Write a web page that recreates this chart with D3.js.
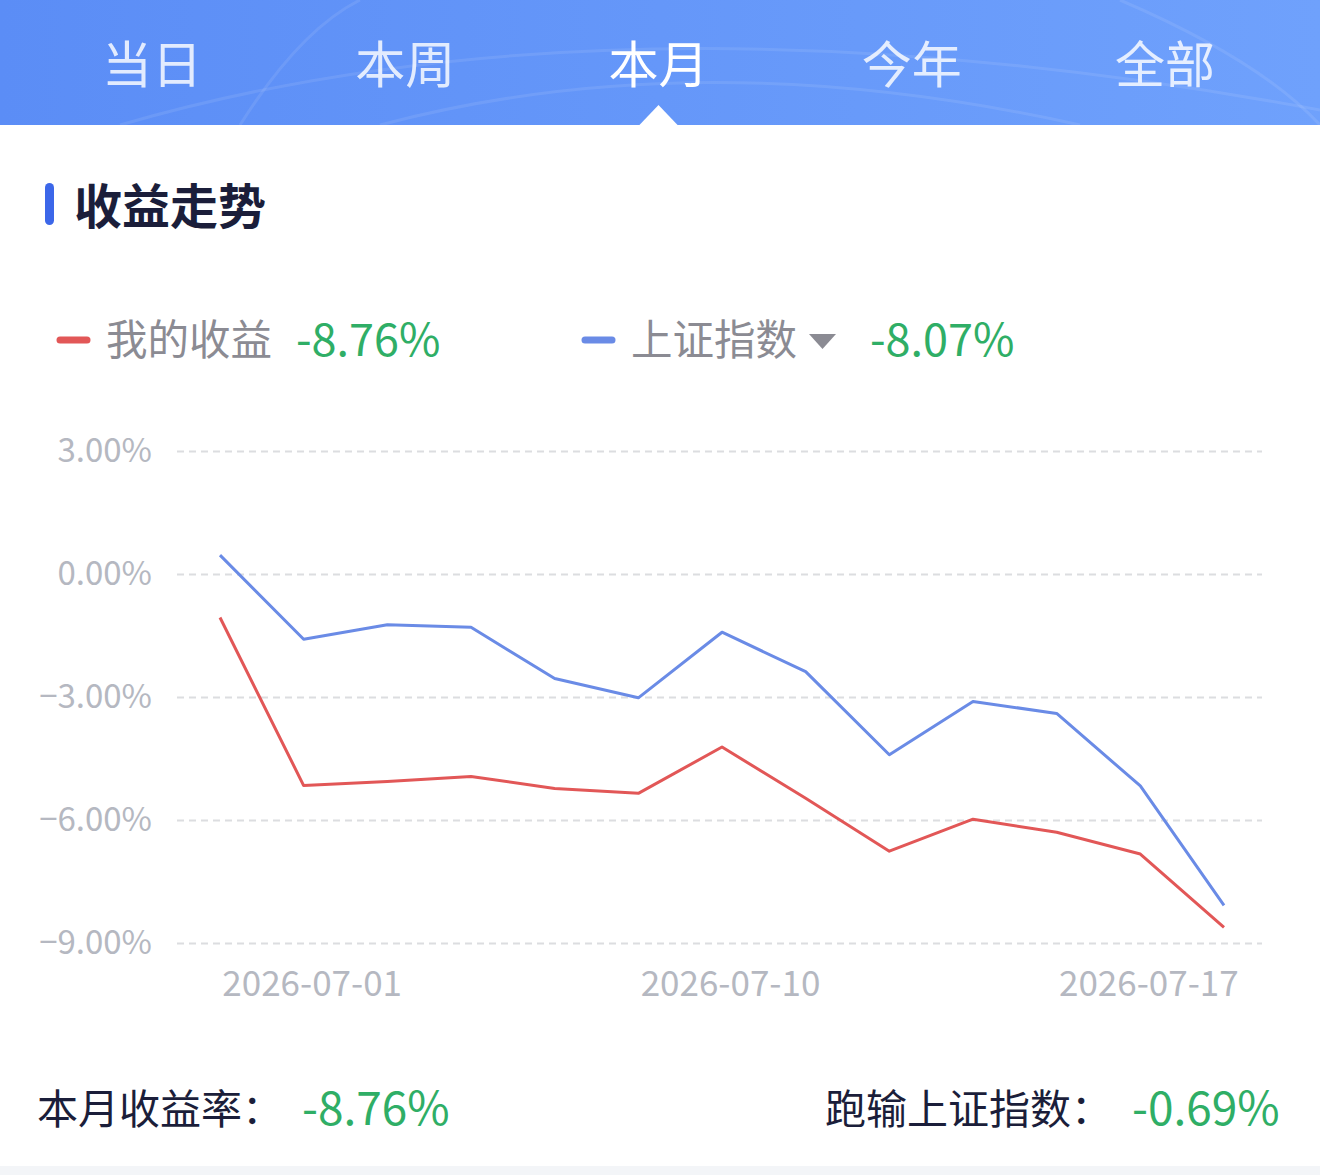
<!DOCTYPE html>
<html>
<head>
<meta charset="utf-8">
<script src="https://cdn.jsdelivr.net/npm/d3@7/dist/d3.min.js"></script>
<style>
  html, body { margin: 0; padding: 0; background: #fff; }
  svg { display: block; font-family: "Noto Sans CJK SC", "Noto Sans", sans-serif; }
</style>
</head>
<body>
<svg id="chart" width="1320" height="1175"></svg>
<script>
'use strict';

// tabs across the header, the selected one is 本月
const TABS = ['当日', '本周', '本月', '今年', '全部'];
const TAB_SELECTED = 2;

// trading days of the month
const DATES = ['2026-06-30', '2026-07-01', '2026-07-02', '2026-07-03', '2026-07-06', '2026-07-08',
	'2026-07-10', '2026-07-13', '2026-07-14', '2026-07-15', '2026-07-16', '2026-07-17', '2026-07-20'];
const X_TICKS = ['2026-07-01', '2026-07-10', '2026-07-17'];
const Y_TICKS = [3, 0, -3, -6, -9];

// returns in %
const MY_RETURN = [-1.06, -5.16, -5.06, -4.94, -5.23, -5.35, -4.22, -5.47, -6.76, -5.98, -6.30, -6.83, -8.62];
const SH_INDEX = [0.46, -1.59, -1.24, -1.30, -2.55, -3.02, -1.42, -2.38, -4.41, -3.11, -3.40, -5.17, -8.08];

const LEGEND = [
	{ name: '我的收益', value: '-8.76%', color: '#e25757' },
	{ name: '上证指数', value: '-8.07%', color: '#6a8be6' },
];
const SUMMARY = [
	{ label: '本月收益率：', value: '-8.76%' },
	{ label: '跑输上证指数：', value: '-0.69%' },
];

const GREEN = '#2fae66',
	GRAY = '#8b8b93',
	NAVY = '#1b1e3a',
	AXIS_GRAY = '#b5b8c1';

let svg = d3.select('#chart');

// ---- header
let defs = svg.append('defs');
let grad = defs.append('linearGradient').attr('id', 'hdr').attr('x1', 0).attr('x2', 1).attr('y1', 0).attr('y2', 0);
grad.append('stop').attr('offset', 0).attr('stop-color', '#5b8df6');
grad.append('stop').attr('offset', 1).attr('stop-color', '#6fa1fc');

svg.append('rect').attr('x', 0).attr('y', 0).attr('width', 1320).attr('height', 125).attr('fill', 'url(#hdr)');

// faint arcs in the header background
let arcs = svg.append('g').attr('fill', 'none').attr('stroke', '#ffffff').attr('stroke-opacity', 0.09).attr('stroke-width', 3);
arcs.append('path').attr('d', 'M 120 125 Q 620 -20 1320 110');
arcs.append('path').attr('d', 'M 380 125 Q 700 40 1080 125');
arcs.append('path').attr('d', 'M 1120 0 Q 1260 60 1320 125');
arcs.append('path').attr('d', 'M 240 125 Q 300 30 360 0');

let tabX = d3.scalePoint().domain(TABS).range([152, 1165]);

svg.append('g').selectAll('text').data(TABS).join('text')
	.attr('x', d => tabX(d))
	.attr('y', 83)
	.attr('text-anchor', 'middle')
	.attr('font-size', 50)
	.attr('fill', (d, i) => i === TAB_SELECTED ? '#ffffff' : 'rgba(255,255,255,0.82)')
	.text(d => d);

let tx = tabX(TABS[TAB_SELECTED]);
svg.append('path')
	.attr('d', `M ${tx - 20} 126 L ${tx} 105 L ${tx + 20} 126 Z`)
	.attr('fill', '#ffffff');

// ---- title
svg.append('rect').attr('x', 45).attr('y', 183).attr('width', 9).attr('height', 42).attr('rx', 4.5).attr('fill', '#3c67e9');
svg.append('text').attr('x', 74).attr('y', 224).attr('font-size', 48).attr('font-weight', 700)
	.attr('fill', NAVY).text('收益走势');

// ---- legend
let legendX = [57, 582];
let lg = svg.append('g').selectAll('g').data(LEGEND).join('g')
	.attr('transform', (d, i) => `translate(${legendX[i]},0)`);
lg.append('line').attr('x1', 3).attr('x2', 30).attr('y1', 340).attr('y2', 340)
	.attr('stroke', d => d.color).attr('stroke-width', 7).attr('stroke-linecap', 'round');
lg.append('text').attr('x', 49).attr('y', 355).attr('font-size', 41.5).attr('fill', GRAY).text(d => d.name);
lg.filter((d, i) => i === 1).append('path')
	.attr('d', 'M 227 334 L 254 334 L 240.5 349 Z').attr('fill', GRAY);
lg.append('text')
	.attr('x', (d, i) => i === 0 ? 239 : 288)
	.attr('y', 356).attr('font-size', 45).attr('fill', GREEN).text(d => d.value);

// ---- chart
let x = d3.scalePoint().domain(DATES).range([220, 1224]);
let y = d3.scaleLinear().domain([-9, 3]).range([943, 451]);

let gridLeft = 177, gridRight = 1262;

let yAxis = svg.append('g')
	.attr('transform', `translate(${gridLeft},0)`)
	.call(d3.axisLeft(y).tickValues(Y_TICKS).tickSize(-(gridRight - gridLeft)).tickPadding(25)
		.tickFormat(d => d3.format('.2f')(d) + '%'));
yAxis.select('.domain').remove();
yAxis.selectAll('.tick line').attr('stroke', '#dcdde0').attr('stroke-width', 2).attr('stroke-dasharray', '7,5');
yAxis.selectAll('.tick text').attr('font-size', 33).attr('fill', AXIS_GRAY).attr('font-family', '"Noto Sans CJK SC", sans-serif');

let xAxis = svg.append('g')
	.attr('transform', `translate(0,${y(-9)})`)
	.call(d3.axisBottom(x).tickValues(X_TICKS).tickSize(0).tickPadding(28));
xAxis.select('.domain').remove();
xAxis.selectAll('.tick text').attr('font-size', 35).attr('fill', AXIS_GRAY).attr('dx', 8)
	.attr('font-family', '"Noto Sans CJK SC", sans-serif');

let line = d3.line().x((d, i) => x(DATES[i])).y(d => y(d));

svg.append('path').datum(SH_INDEX).attr('d', line)
	.attr('fill', 'none').attr('stroke', LEGEND[1].color).attr('stroke-width', 3).attr('stroke-linejoin', 'round');
svg.append('path').datum(MY_RETURN).attr('d', line)
	.attr('fill', 'none').attr('stroke', LEGEND[0].color).attr('stroke-width', 3).attr('stroke-linejoin', 'round');

// ---- summary row
let sumX = [[37, 302], [825, 1132]];
let sg = svg.append('g').selectAll('g').data(SUMMARY).join('g');
sg.append('text').attr('x', (d, i) => sumX[i][0]).attr('y', 1124).attr('font-size', 41).attr('fill', NAVY).text(d => d.label);
sg.append('text').attr('x', (d, i) => sumX[i][1]).attr('y', 1125).attr('font-size', 46).attr('fill', GREEN).text(d => d.value);

svg.append('rect').attr('x', 0).attr('y', 1166).attr('width', 1320).attr('height', 9).attr('fill', '#f3f5f8');
</script>
</body>
</html>
